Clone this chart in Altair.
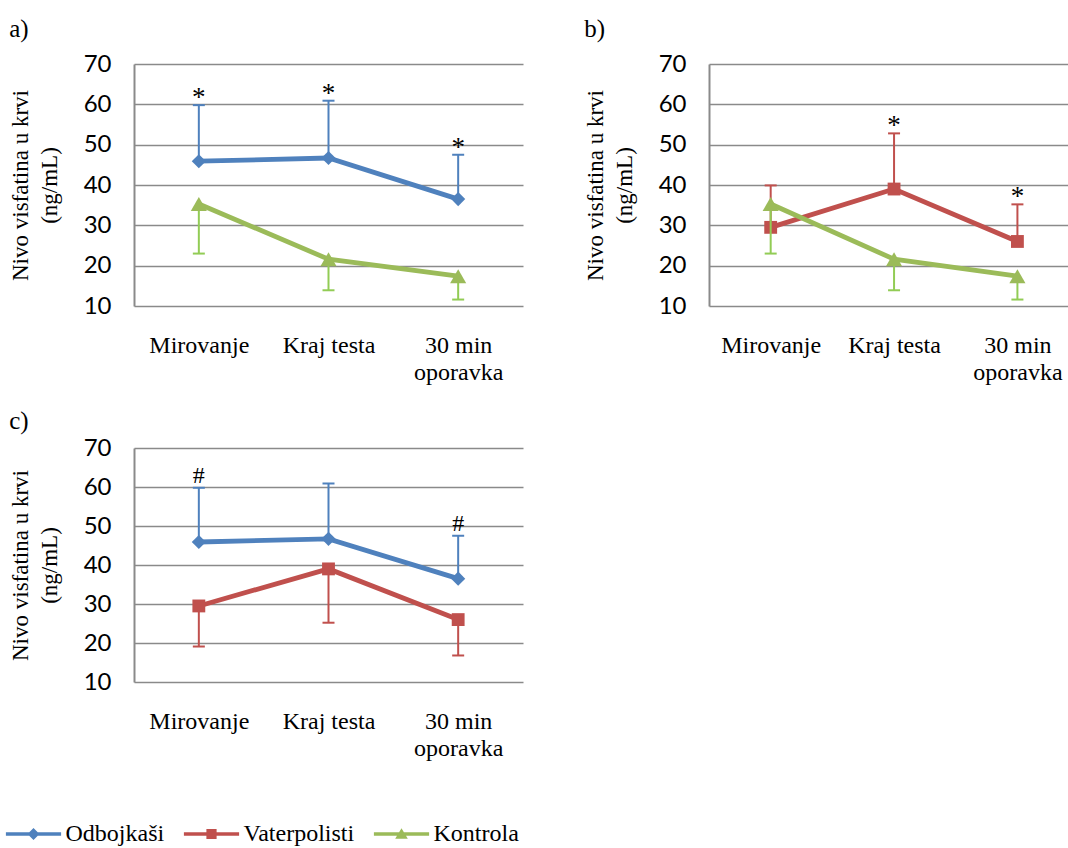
import altair as alt
import pandas as pd

# Categories on the x axis (newline splits the label over two lines)
categories = ["Mirovanje", "Kraj testa", "30 min\noporavka"]

# Groups, their line colours, error bar colours and marker shapes
groups = ["Odbojkaši", "Vaterpolisti", "Kontrola"]
line_colors = ["#4F81BD", "#C0504D", "#9BBB59"]
bar_colors = ["#4F81BD", "#C0504D", "#92CC55"]
shapes = ["diamond", "square", "triangle-up"]
marker_sizes = [200, 165, 260]

# Mean visfatin level (ng/mL) and standard deviation per group
odbojkasi_mean = [45.9, 46.7, 36.5]
odbojkasi_sd = [13.9, 14.2, 11.0]
vaterpolisti_mean = [29.5, 39.0, 26.0]
vaterpolisti_sd = [10.4, 13.8, 9.2]
kontrola_mean = [35.3, 21.6, 17.4]
kontrola_sd = [12.3, 7.7, 5.8]

means = {"Odbojkaši": odbojkasi_mean, "Vaterpolisti": vaterpolisti_mean, "Kontrola": kontrola_mean}
sds = {"Odbojkaši": odbojkasi_sd, "Vaterpolisti": vaterpolisti_sd, "Kontrola": kontrola_sd}

# Significance marks drawn above the upper group of each panel
marks_a = ["*", "*", "*"]
marks_b = ["", "*", "*"]
marks_c = ["#", "", "#"]

SERIF = "Liberation Serif"
SANS = "Lato"
GRID = "#8a8a8a"

# Legend symbols: a short line with the series marker on it
line_part = "M-4.6,-0.28H4.6V0.28H-4.6Z"
legend_paths = [
    line_part + "M0,-1L1,0L0,1L-1,0Z",
    line_part + "M-0.85,-0.85H0.85V0.85H-0.85Z",
    line_part + "M0,-0.95L1.05,0.8H-1.05Z",
]

# x axis label lookup: category index -> (possibly two-line) label
cat_list = ",".join("'" + c.replace("\n", "\\n") + "'" for c in categories)
label_expr = "split([" + cat_list + "][datum.value], '\\n')"


def panel_frame(upper, lower, marks):
    rows = []
    for name, direction in [(upper, 1), (lower, -1)]:
        gi = groups.index(name)
        for i, cat in enumerate(categories):
            m = means[name][i]
            rows.append({
                "group": name,
                "cat": cat,
                "idx": i,
                "mean": m,
                "end": m + direction * sds[name][i],
                "mark": marks[i] if direction == 1 else "",
                "line": line_colors[gi],
                "bar": bar_colors[gi],
                "shape": shapes[gi],
                "msize": marker_sizes[gi],
            })
    return pd.DataFrame(rows)


def panel(label, upper, lower, marks, width, height, xmax=2.5, title_offset=10, extra=None):
    df = panel_frame(upper, lower, marks)
    # categories sit at 0, 1, 2; the bottom border is the y grid line at 10
    xscale = alt.Scale(domain=[-0.5, xmax], nice=False, zero=False)
    x_axis = alt.Axis(
        title=None, values=list(range(len(categories))), labelExpr=label_expr,
        labelAngle=0, labelFont=SERIF, labelFontSize=24, labelColor="black",
        labelLineHeight=27, labelPadding=27, labelFlush=False, labelOverlap=False,
        labelBound=False, ticks=False, tickSize=0, domain=False, grid=False,
    )
    x = alt.X("idx:Q", scale=xscale, axis=x_axis)
    y_axis = alt.Axis(
        values=[10, 20, 30, 40, 50, 60, 70],
        title=["Nivo visfatina u krvi", "(ng/mL)"],
        titleFont=SERIF, titleFontSize=23, titleFontWeight="normal",
        titleColor="black", titleLineHeight=29, titlePadding=22,
        labelFont=SANS, labelFontSize=24, labelColor="black", labelPadding=23,
        ticks=False, tickSize=0, domainColor=GRID, domainWidth=2,
        grid=True, gridColor=GRID, gridWidth=1.7,
    )
    yscale = alt.Scale(domain=[10, 70], nice=False, zero=False)
    y = alt.Y("mean:Q", scale=yscale, axis=y_axis)
    y_end = alt.Y("end:Q", scale=yscale, axis=y_axis)

    base = alt.Chart(df)
    layers = []
    for name in sorted([upper, lower], key=groups.index):
        sub = base.transform_filter(alt.datum.group == name)
        rule = sub.mark_rule(strokeWidth=2).encode(
            x=x, y=y, y2="end:Q", color=alt.Color("bar:N", scale=None)
        )
        cap = sub.mark_point(shape="M-1,0H1", filled=False, strokeWidth=2, size=144, opacity=1).encode(
            x=x, y=y_end, color=alt.Color("bar:N", scale=None)
        )
        line = sub.mark_line(strokeWidth=4.8).encode(
            x=x, y=y, order="idx:Q", color=alt.Color("line:N", scale=None)
        )
        pts = sub.mark_point(filled=True, opacity=1).encode(
            x=x, y=y,
            color=alt.Color("line:N", scale=None),
            shape=alt.Shape("shape:N", scale=None),
            size=alt.Size("msize:Q", scale=None),
        )
        layers += [rule, cap, line, pts]

    for sym, size, dy in [("*", 27, 1), ("#", 24, -5)]:
        txt = base.transform_filter(alt.datum.mark == sym).mark_text(
            font=SERIF, fontSize=size, color="black", baseline="alphabetic", dy=dy
        ).encode(x=x, y=y_end, text="mark:N")
        layers.append(txt)

    if extra is not None:
        layers.append(extra)

    return alt.layer(*layers).properties(
        width=width, height=height,
        title=alt.TitleParams(
            label, anchor="start", frame="bounds", font=SERIF, fontSize=25,
            fontWeight="normal", color="black", offset=title_offset,
        ),
    )


legend_layer = alt.Chart(pd.DataFrame({"group": groups})).transform_filter("false").mark_point(
    filled=True, opacity=1
).encode(
    color=alt.Color(
        "group:N",
        scale=alt.Scale(domain=groups, range=line_colors),
        legend=alt.Legend(
            title=None, orient="none", direction="horizontal",
            legendX=-112.5, legendY=758, padding=0,
            labelFont=SERIF, labelFontSize=24, labelColor="black",
            symbolSize=144, symbolStrokeWidth=0, symbolOpacity=1,
            labelOffset=20, columnPadding=19,
        ),
    ),
    shape=alt.Shape("group:N", scale=alt.Scale(domain=groups, range=legend_paths)),
)

pa = panel("a)", "Odbojkaši", "Kontrola", marks_a, 389, 242)
# panel b runs past its right border, so its last category is closer to the edge
pb = panel("b)", "Vaterpolisti", "Kontrola", marks_b, 359, 242, xmax=2.41)
pc = panel("c)", "Odbojkaši", "Vaterpolisti", marks_c, 389, 234, title_offset=2, extra=legend_layer)

chart = alt.vconcat(
    alt.hconcat(pa, pb, spacing=61),
    pc,
    spacing=25,
).properties(
    padding={"left": 9, "top": 17, "right": 0, "bottom": 0},
    background="white",
).configure_view(stroke=None)

chart.save("out.html", embed_options={"renderer": "svg", "actions": False})
